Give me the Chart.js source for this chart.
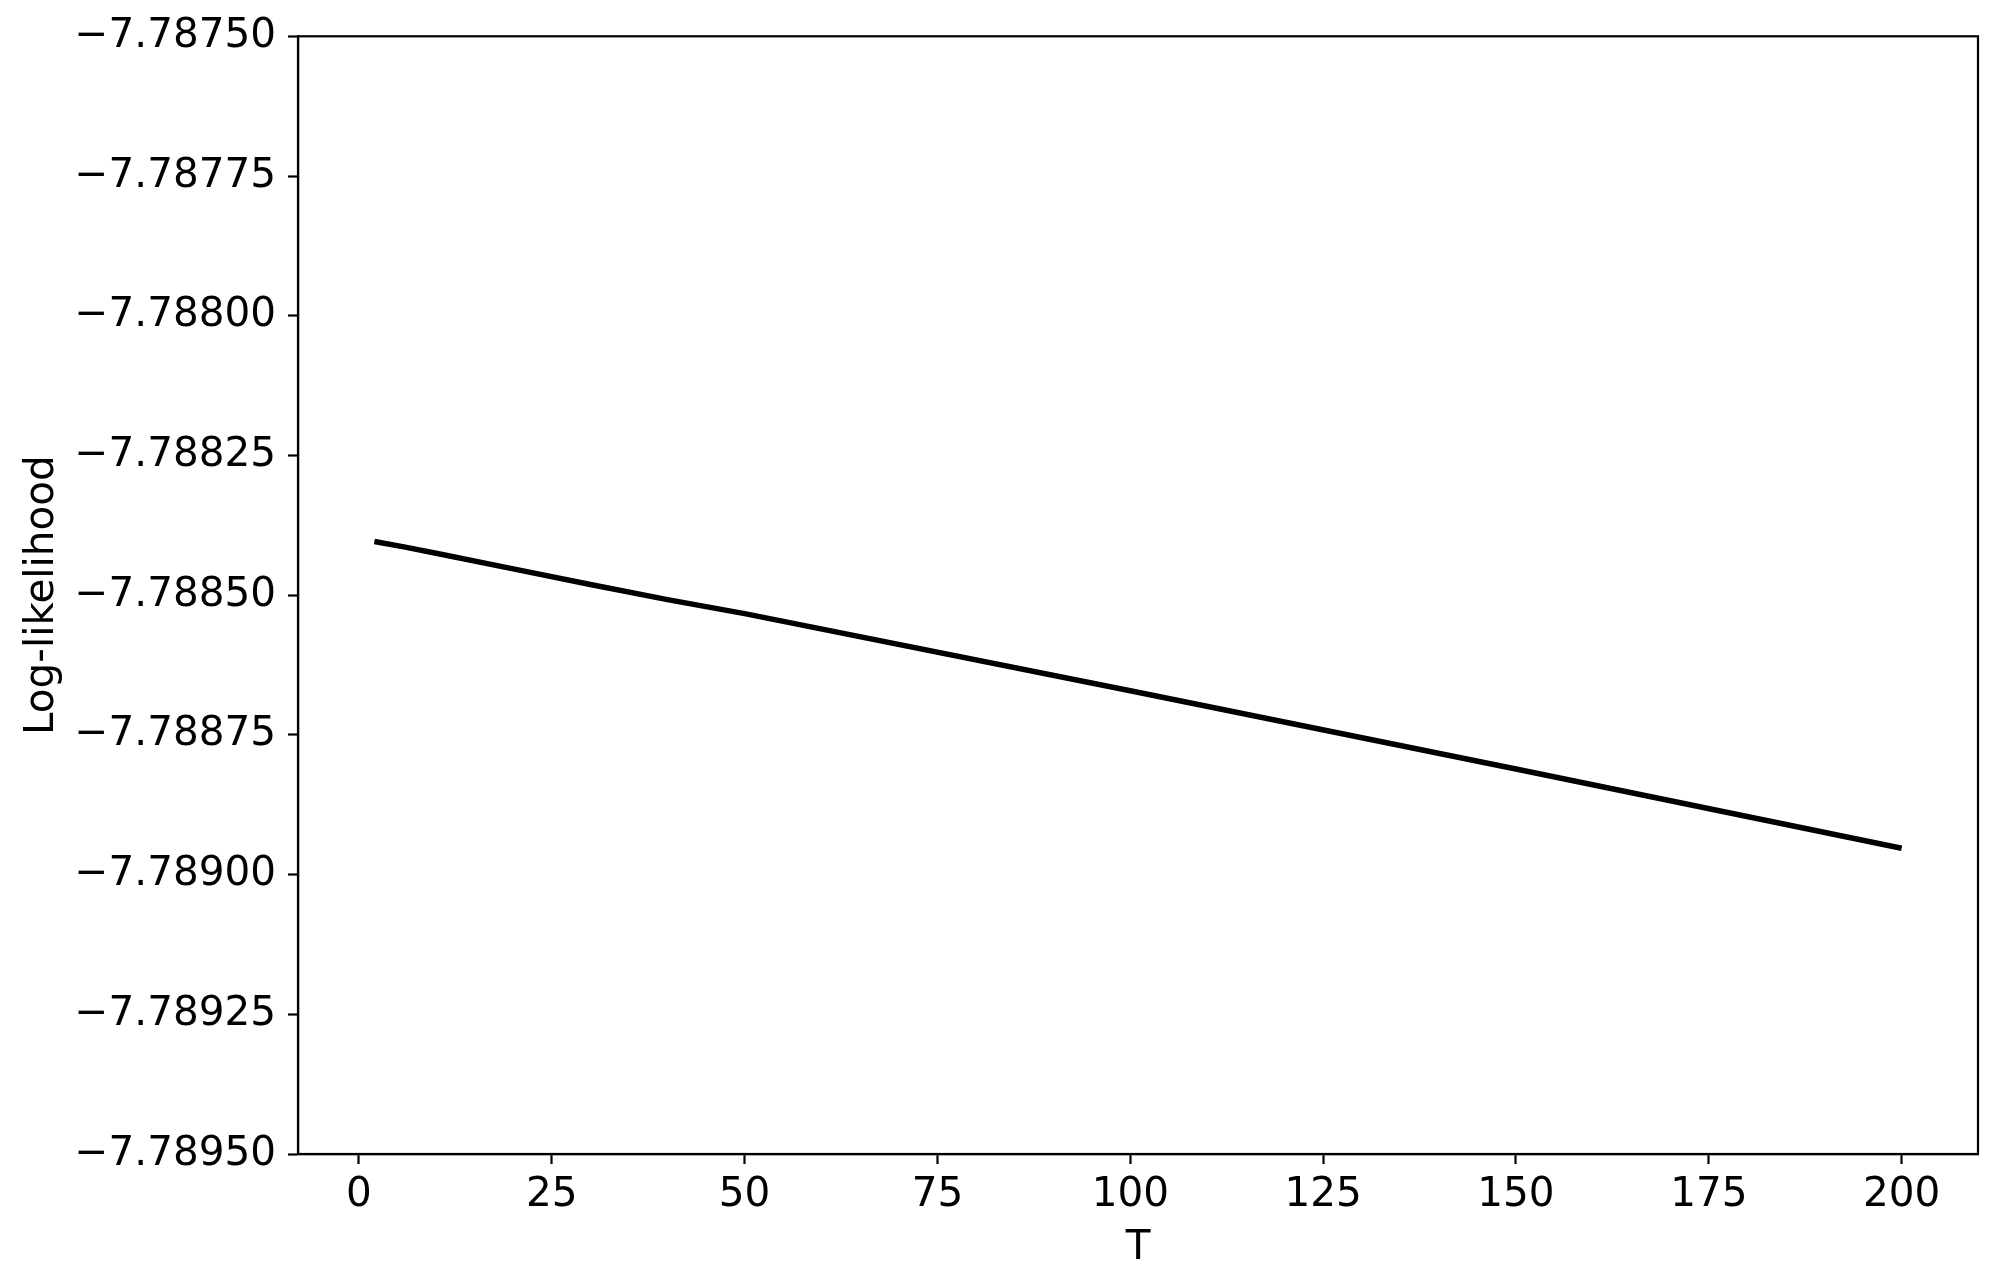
<!DOCTYPE html>
<html>
<head>
<meta charset="utf-8">
<script src="https://cdn.jsdelivr.net/npm/chart.js@4.4.1/dist/chart.umd.min.js"></script>
<style>
  body { margin: 0; background: #fff; }
  #wrap { width: 1997px; height: 1286px; }
</style>
</head>
<body>
<div id="wrap"><canvas id="llChart" width="1997" height="1286"></canvas></div>
<script>
    // values
    var tValues = [2, 6, 10, 20, 30, 40, 50, 100, 150, 200];
    var logLik = [-7.788404, -7.788414, -7.788425, -7.788453, -7.788481,
                  -7.788508, -7.788533, -7.788671, -7.788811, -7.788953];

    var xTicks = [0, 25, 50, 75, 100, 125, 150, 175, 200];
    var yTicks = [-7.7875, -7.78775, -7.788, -7.78825, -7.7885,
                  -7.78875, -7.789, -7.78925, -7.7895];

    var fontFam = "'DejaVu Sans', sans-serif";
    var fontSize = 40.5;

    var points = [];
    for (var i = 0; i < tValues.length; i++) {
        points.push({ x: tValues[i], y: logLik[i] });
    }

    // frame round the plot area (top and right sides)
    var framePlugin = {
        id: 'frame',
        afterDraw: function(chart) {
            var a = chart.chartArea;
            var ctx = chart.ctx;
            ctx.save();
            ctx.strokeStyle = '#000';
            ctx.lineWidth = 2.2;
            ctx.strokeRect(a.left, a.top, a.right - a.left, a.bottom - a.top);
            ctx.restore();
        }
    };

    const ctx = document.getElementById('llChart');
    new Chart(ctx, {
        type: 'line',
        data: {
            datasets: [{
                data: points,
                borderColor: '#000',
                borderWidth: 5.5,
                pointRadius: 0,
                fill: false,
                tension: 0
            }]
        },
        plugins: [framePlugin],
        options: {
            responsive: false,
            animation: false,
            layout: { padding: { left: 0, right: 19, top: 35, bottom: 0 } },
            plugins: {
                legend: { display: false },
                tooltip: { enabled: false }
            },
            scales: {
                x: {
                    type: 'linear',
                    min: -7.9,
                    max: 209.9,
                    afterBuildTicks: function(scale) {
                        scale.ticks = xTicks.map(function(v) { return { value: v }; });
                    },
                    afterFit: function(scale) { scale.height = 132; },
                    grid: {
                        drawOnChartArea: false,
                        drawTicks: true,
                        tickLength: 10,
                        tickColor: '#000',
                        tickWidth: 2.2
                    },
                    border: { display: true, color: '#000', width: 2.2 },
                    ticks: {
                        color: '#000',
                        padding: 7,
                        maxRotation: 0,
                        autoSkip: false,
                        font: { family: fontFam, size: fontSize },
                        callback: function(v) { return String(v); }
                    },
                    title: {
                        display: true,
                        text: 'T',
                        color: '#000',
                        font: { family: fontFam, size: fontSize },
                        padding: { top: 0, bottom: 13 }
                    }
                },
                y: {
                    type: 'linear',
                    min: -7.7895,
                    max: -7.7875,
                    afterBuildTicks: function(scale) {
                        scale.ticks = yTicks.map(function(v) { return { value: v }; });
                    },
                    afterFit: function(scale) { scale.width = 298; },
                    grid: {
                        drawOnChartArea: false,
                        drawTicks: true,
                        tickLength: 10,
                        tickColor: '#000',
                        tickWidth: 2.2
                    },
                    border: { display: true, color: '#000', width: 2.2 },
                    ticks: {
                        color: '#000',
                        padding: 12,
                        autoSkip: false,
                        font: { family: fontFam, size: fontSize },
                        callback: function(v) {
                            return '\u2212' + Math.abs(v).toFixed(5);
                        }
                    },
                    title: {
                        display: true,
                        text: 'Log-likelihood',
                        color: '#000',
                        font: { family: fontFam, size: fontSize },
                        padding: { top: 18, bottom: 0 }
                    }
                }
            }
        }
    });
</script>
</body>
</html>
